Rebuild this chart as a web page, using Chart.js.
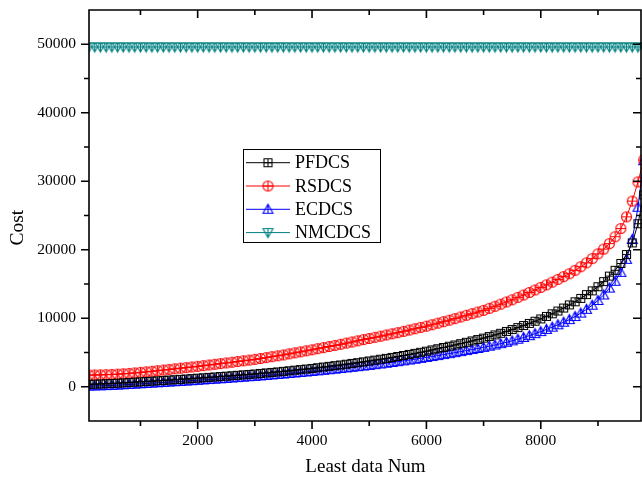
<!DOCTYPE html>
<html>
<head>
<meta charset="utf-8">
<script src="https://cdn.jsdelivr.net/npm/chart.js@4.4.0/dist/chart.umd.min.js"></script>
<style>
  body { margin: 0; background: #fff; }
  canvas { display: block; }
</style>
</head>
<body>
<canvas id="myChart" width="642" height="481"></canvas>
<script>
// x values (Least data Num)
const leastDataNum = [
  100,200,300,400,500,600,700,800,900,1000,
  1100,1200,1300,1400,1500,1600,1700,1800,1900,2000,
  2100,2200,2300,2400,2500,2600,2700,2800,2900,3000,
  3100,3200,3300,3400,3500,3600,3700,3800,3900,4000,
  4100,4200,4300,4400,4500,4600,4700,4800,4900,5000,
  5100,5200,5300,5400,5500,5600,5700,5800,5900,6000,
  6100,6200,6300,6400,6500,6600,6700,6800,6900,7000,
  7100,7200,7300,7400,7500,7600,7700,7800,7900,8000,
  8100,8200,8300,8400,8500,8600,8700,8800,8900,9000,
  9100,9200,9300,9400,9500,9600,9700,9800]

const pfdcs = [
  350,380,410,445,480,525,570,620,670,720,
  770,820,875,925,980,1030,1085,1140,1195,1250,
  1310,1370,1430,1490,1550,1610,1675,1740,1805,1870,
  1945,2020,2095,2170,2250,2335,2420,2505,2590,2680,
  2775,2875,2975,3075,3180,3290,3405,3520,3640,3760,
  3890,4020,4150,4285,4420,4570,4720,4875,5035,5200,
  5375,5550,5730,5915,6100,6295,6490,6690,6895,7100,
  7330,7565,7810,8075,8350,8640,8940,9250,9570,9900,
  10270,10650,11050,11490,11950,12400,12900,13450,14000,14600,
  15350,16150,17000,18000,19300,21000,23800,28000]

const rsdcs = [
  1700,1720,1740,1770,1800,1840,1890,1950,2020,2100,
  2180,2260,2350,2440,2530,2620,2710,2800,2890,2980,
  3080,3180,3280,3380,3480,3580,3690,3790,3890,4000,
  4130,4260,4390,4520,4650,4800,4950,5100,5250,5400,
  5560,5720,5880,6040,6200,6370,6540,6710,6880,7050,
  7220,7390,7560,7730,7900,8090,8280,8470,8660,8850,
  9060,9280,9500,9720,9950,10190,10430,10670,10910,11150,
  11450,11750,12060,12380,12700,13050,13400,13760,14130,14500,
  14880,15270,15670,16080,16500,16990,17520,18090,18710,19400,
  20100,20900,21900,23100,24800,27100,29900,33100]

const ecdcs = [
  100,120,140,170,200,240,285,330,380,430,
  480,530,580,630,680,730,780,835,885,940,
  995,1050,1105,1160,1220,1280,1340,1400,1460,1520,
  1585,1650,1720,1790,1860,1935,2010,2085,2160,2240,
  2320,2400,2485,2570,2660,2750,2840,2930,3025,3120,
  3225,3330,3435,3545,3660,3780,3900,4020,4150,4280,
  4415,4550,4690,4835,4980,5130,5280,5430,5590,5750,
  5925,6100,6290,6490,6700,6940,7190,7460,7750,8050,
  8370,8700,9050,9420,9800,10250,10750,11300,11900,12600,
  13400,14400,15400,16700,18600,21500,26200,33000]

const nmcdcs = [
  49600,49600,49600,49600,49600,49600,49600,49600,49600,49600,
  49600,49600,49600,49600,49600,49600,49600,49600,49600,49600,
  49600,49600,49600,49600,49600,49600,49600,49600,49600,49600,
  49600,49600,49600,49600,49600,49600,49600,49600,49600,49600,
  49600,49600,49600,49600,49600,49600,49600,49600,49600,49600,
  49600,49600,49600,49600,49600,49600,49600,49600,49600,49600,
  49600,49600,49600,49600,49600,49600,49600,49600,49600,49600,
  49600,49600,49600,49600,49600,49600,49600,49600,49600,49600,
  49600,49600,49600,49600,49600,49600,49600,49600,49600,49600,
  49600,49600,49600,49600,49600,49600,49600,49600]

const xMajor = [2000, 4000, 6000, 8000]
const xMinor = [1000, 3000, 5000, 7000, 9000]
const yMajor = [0, 10000, 20000, 30000, 40000, 50000]
const yMinor = [5000, 15000, 25000, 35000, 45000]

const serif = "'Liberation Serif', 'Times New Roman', serif"

// hollow Origin-style symbols
function marker(shape, color) {
    const c = document.createElement('canvas')
    c.width = 15; c.height = 15
    const g = c.getContext('2d')
    const m = 7.5
    g.strokeStyle = color
    g.lineWidth = 1.1
    g.beginPath()
    if (shape == 'square') {
        g.rect(m - 4, m - 4, 8, 8)
        g.moveTo(m, m - 4); g.lineTo(m, m + 4)
        g.moveTo(m - 4, m); g.lineTo(m + 4, m)
    } else if (shape == 'circle') {
        g.arc(m, m, 5, 0, Math.PI * 2)
        g.moveTo(m, m - 5); g.lineTo(m, m + 5)
        g.moveTo(m - 5, m); g.lineTo(m + 5, m)
    } else if (shape == 'up') {
        g.moveTo(m, m - 5); g.lineTo(m + 5, m + 4); g.lineTo(m - 5, m + 4); g.closePath()
        g.moveTo(m, m - 5); g.lineTo(m, m + 4)
    } else {
        g.moveTo(m, m + 5); g.lineTo(m + 5, m - 4); g.lineTo(m - 5, m - 4); g.closePath()
        g.moveTo(m, m + 5); g.lineTo(m, m - 4)
    }
    g.stroke()
    return c
}

function series(label, values, color, shape) {
    return {
        label: label,
        data: values.map((v, i) => ({ x: leastDataNum[i], y: v })),
        borderColor: color,
        backgroundColor: color,
        borderWidth: 1,
        tension: 0,
        pointStyle: marker(shape, color),
        pointRadius: 5
    }
}

const framePlugin = {
    id: 'frameTicks',
    afterDraw(chart) {
        const { ctx, chartArea: a, scales: { x, y } } = chart
        const r = a.right - 1
        ctx.save()
        ctx.strokeStyle = '#000'
        ctx.lineWidth = 1.6
        ctx.beginPath()
        ctx.rect(a.left, a.top, r - a.left, a.bottom - a.top)
        const tickX = (v, len) => {
            const px = x.getPixelForValue(v)
            ctx.moveTo(px, a.bottom); ctx.lineTo(px, a.bottom + len)
            ctx.moveTo(px, a.top); ctx.lineTo(px, a.top + len)
        }
        const tickY = (v, len) => {
            const py = y.getPixelForValue(v)
            ctx.moveTo(a.left - len, py); ctx.lineTo(a.left, py)
            ctx.moveTo(r, py); ctx.lineTo(r - len, py)
        }
        xMajor.forEach(v => tickX(v, 8))
        xMinor.forEach(v => tickX(v, 5))
        yMajor.forEach(v => tickY(v, 8))
        yMinor.forEach(v => tickY(v, 5))
        ctx.stroke()
        ctx.restore()
    }
}

const legendPlugin = {
    id: 'boxLegend',
    afterDraw(chart) {
        const ctx = chart.ctx
        ctx.save()
        ctx.fillStyle = '#fff'
        ctx.fillRect(243.5, 149.5, 137, 93)
        ctx.strokeStyle = '#000'
        ctx.lineWidth = 1
        ctx.strokeRect(243.5, 149.5, 137, 93)
        chart.data.datasets.forEach((ds, i) => {
            const cy = 162.7 + i * 23.3
            ctx.strokeStyle = ds.borderColor
            ctx.beginPath()
            ctx.moveTo(246, cy); ctx.lineTo(290, cy)
            ctx.stroke()
            const img = ds.pointStyle
            ctx.drawImage(img, 268 - img.width / 2, cy - img.height / 2)
            ctx.fillStyle = '#000'
            ctx.font = '18px ' + serif
            ctx.textBaseline = 'middle'
            ctx.textAlign = 'left'
            ctx.fillText(ds.label, 295, cy + 1)
        })
        ctx.restore()
    }
}

var ctx = document.getElementById('myChart').getContext('2d')
var myChart = new Chart(ctx, {
    type: 'line',
    data: {
        datasets: [
            series('PFDCS', pfdcs, '#000000', 'square'),
            series('RSDCS', rsdcs, '#ff0000', 'circle'),
            series('ECDCS', ecdcs, '#0000ff', 'up'),
            series('NMCDCS', nmcdcs, '#008080', 'down')
        ]
    },
    options: {
        responsive: false,
        animation: false,
        events: [],
        layout: { autoPadding: false, padding: { top: 10, right: 0, left: 0, bottom: 0 } },
        plugins: {
            legend: { display: false },
            tooltip: { enabled: false }
        },
        scales: {
            x: {
                type: 'linear',
                min: 100,
                max: 9770,
                afterBuildTicks: (s) => { s.ticks = xMajor.map(v => ({ value: v })) },
                afterFit: (s) => { s.height = 60; s.paddingLeft = 0; s.paddingRight = 0 },
                grid: { display: false, drawTicks: false },
                border: { display: false },
                ticks: {
                    padding: 11,
                    color: '#000',
                    maxRotation: 0,
                    autoSkip: false,
                    font: { family: serif, size: 15.5 },
                    callback: (v) => String(v)
                },
                title: {
                    display: true,
                    text: 'Least data Num',
                    color: '#000',
                    font: { family: serif, size: 19 },
                    padding: { top: 0, bottom: 3 }
                }
            },
            y: {
                type: 'linear',
                min: -5000,
                max: 55000,
                afterBuildTicks: (s) => { s.ticks = yMajor.map(v => ({ value: v })) },
                afterFit: (s) => { s.width = 89; s.paddingTop = 0; s.paddingBottom = 0 },
                grid: { display: false, drawTicks: false },
                border: { display: false },
                ticks: {
                    padding: 13,
                    color: '#000',
                    autoSkip: false,
                    font: { family: serif, size: 15.5 },
                    callback: (v) => String(v)
                },
                title: {
                    display: true,
                    text: 'Cost     ',
                    color: '#000',
                    font: { family: serif, size: 19.5 },
                    padding: { top: 6, bottom: 0 }
                }
            }
        }
    },
    plugins: [framePlugin, legendPlugin]
})
</script>
</body>
</html>
